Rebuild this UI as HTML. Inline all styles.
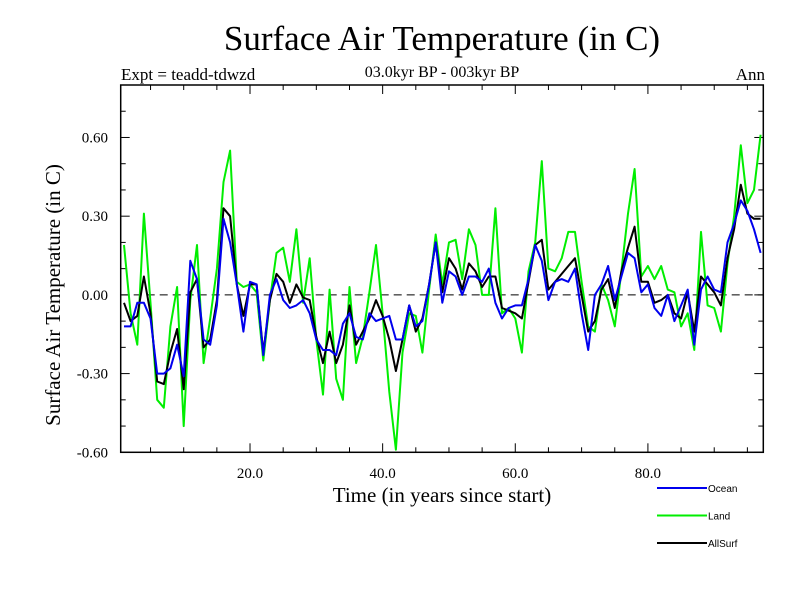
<!DOCTYPE html>
<html><head><meta charset="utf-8"><style>
body{margin:0;background:#fff;}
svg text{font-family:"Liberation Serif",serif;}
</style></head><body>
<svg id="chart" width="800" height="600" xmlns="http://www.w3.org/2000/svg">
<rect width="800" height="600" fill="#fff"/>
<text x="442" y="50" font-size="35" text-anchor="middle">Surface Air Temperature (in C)</text>
<text x="121" y="80" font-size="17">Expt = teadd-tdwzd</text>
<text x="442" y="77" font-size="16" text-anchor="middle">03.0kyr BP - 003kyr BP</text>
<text x="765" y="80" font-size="17" text-anchor="end">Ann</text>
<text transform="translate(60,295) rotate(-90)" font-size="21" text-anchor="middle">Surface Air Temperature (in C)</text>
<text x="442" y="502" font-size="21" text-anchor="middle">Time (in years since start)</text>
<g id="axes"></g>
<g id="series"></g>
<rect x="120.7" y="85" width="642.6" height="367.3" fill="none" stroke="#000" stroke-width="1.5"/>
<g id="legend"></g>
</svg>
<script>
const years = [];
for (let i = 1; i <= 97; i++) years.push(i);
const ocean = [-0.12,-0.12,-0.03,-0.03,-0.09,-0.30,-0.30,-0.28,-0.19,-0.31,0.13,0.06,-0.17,-0.19,-0.04,0.29,0.20,0.04,-0.14,0.05,0.04,-0.23,0.00,0.06,-0.02,-0.05,-0.04,-0.02,-0.07,-0.17,-0.21,-0.21,-0.23,-0.11,-0.07,-0.16,-0.17,-0.07,-0.10,-0.09,-0.08,-0.17,-0.17,-0.04,-0.12,-0.10,0.04,0.20,-0.03,0.09,0.07,0.00,0.07,0.07,0.05,0.10,-0.03,-0.09,-0.05,-0.04,-0.04,0.06,0.19,0.13,-0.02,0.05,0.06,0.05,0.10,-0.07,-0.21,0.00,0.04,0.11,-0.02,0.07,0.16,0.14,0.01,0.04,-0.05,-0.08,0.00,-0.10,-0.04,0.02,-0.19,0.02,0.07,0.02,0.01,0.20,0.27,0.36,0.32,0.25,0.16];
const land = [0.19,-0.07,-0.19,0.31,-0.03,-0.40,-0.43,-0.12,0.03,-0.50,-0.02,0.19,-0.26,-0.09,0.10,0.43,0.55,0.05,0.03,0.04,0.01,-0.25,-0.02,0.16,0.18,0.05,0.25,-0.03,0.14,-0.17,-0.38,0.02,-0.32,-0.40,0.03,-0.26,-0.16,0.01,0.19,-0.07,-0.37,-0.59,-0.22,-0.07,-0.08,-0.22,0.02,0.23,0.04,0.20,0.21,0.06,0.25,0.19,0.00,0.00,0.33,-0.07,-0.05,-0.09,-0.22,0.09,0.20,0.51,0.10,0.09,0.14,0.24,0.24,0.05,-0.12,-0.14,0.04,-0.02,-0.12,0.09,0.31,0.48,0.07,0.11,0.06,0.11,0.02,0.01,-0.12,-0.07,-0.21,0.24,-0.04,-0.05,-0.14,0.12,0.30,0.57,0.35,0.40,0.61];
const allsurf = [-0.03,-0.10,-0.08,0.07,-0.07,-0.33,-0.34,-0.22,-0.13,-0.36,0.01,0.06,-0.20,-0.17,-0.02,0.33,0.30,0.04,-0.08,0.04,0.04,-0.22,-0.02,0.08,0.05,-0.03,0.04,-0.01,-0.02,-0.16,-0.26,-0.14,-0.26,-0.19,-0.04,-0.19,-0.14,-0.09,-0.02,-0.08,-0.17,-0.29,-0.17,-0.04,-0.14,-0.09,0.04,0.20,0.01,0.14,0.10,0.02,0.12,0.09,0.03,0.07,0.07,-0.05,-0.06,-0.07,-0.09,0.05,0.19,0.21,0.02,0.05,0.08,0.11,0.14,0.00,-0.14,-0.10,0.02,0.06,-0.05,0.09,0.18,0.26,0.05,0.05,-0.03,-0.02,0.00,-0.07,-0.09,0.01,-0.14,0.07,0.04,0.01,-0.04,0.14,0.25,0.42,0.31,0.29,0.29];
const yTicks = [0.6,0.3,0,-0.3,-0.6];
const yTickLabels = ["0.60","0.30","0.00","-0.30","-0.60"];
const xTicks = [20,40,60,80];
const xTickLabels = ["20.0","40.0","60.0","80.0"];

const NS = "http://www.w3.org/2000/svg";
const X0 = 0.5, X1 = 97.4, PL = 120.7, PR = 763.3;
const Y0 = -0.6, Y1 = 0.8, PB = 452.3, PT = 85;
function xs(v){ return PL + (v - X0) / (X1 - X0) * (PR - PL); }
function ys(v){ return PB - (v - Y0) / (Y1 - Y0) * (PB - PT); }
function mk(tag, attrs, parent){
  const e = document.createElementNS(NS, tag);
  for (const k in attrs) e.setAttribute(k, attrs[k]);
  parent.appendChild(e); return e;
}
const axes = document.getElementById('axes');
for (let k = -6; k <= 8; k++) {
  const v = k / 10, y = ys(v);
  const major = yTicks.some(t => Math.abs(t - v) < 1e-6);
  const len = major ? 9 : 5;
  const t1 = mk('line', {x1: PL, x2: PL + len, y1: y, y2: y, stroke: '#000', 'stroke-width': 1}, axes);
  
  
  const t2 = mk('line', {x1: PR, x2: PR - len, y1: y, y2: y, stroke: '#000', 'stroke-width': 1}, axes);
  
  
}
yTicks.forEach((v, i) => {
  const t = mk('text', {x: 108, y: ys(v) + 5, 'font-size': 15, 'text-anchor': 'end'}, axes);
  t.textContent = yTickLabels[i];
  
  
});
for (let v = 5; v < X1; v += 5) {
  const x = xs(v);
  const major = v % 20 === 0;
  const len = major ? 9 : 5;
  const t1 = mk('line', {x1: x, x2: x, y1: PB, y2: PB - len, stroke: '#000', 'stroke-width': 1}, axes);
  
  
  const t2 = mk('line', {x1: x, x2: x, y1: PT, y2: PT + len, stroke: '#000', 'stroke-width': 1}, axes);
  
  
}
xTicks.forEach((v, i) => {
  const t = mk('text', {x: xs(v), y: 478, 'font-size': 15, 'text-anchor': 'middle'}, axes);
  t.textContent = xTickLabels[i];
  
  
});
const zl = mk('line', {x1: PL, x2: PR, y1: ys(0), y2: ys(0), stroke: '#000', 'stroke-width': 1, 'stroke-dasharray': '8,5'}, axes);



const sg = document.getElementById('series');
function drawLine(vals, color, name){
  const pts = vals.map((v, i) => xs(years[i]).toFixed(1) + ',' + ys(v).toFixed(1)).join(' ');
  const p = mk('polyline', {points: pts, fill: 'none', stroke: color, 'stroke-width': 2, 'stroke-linejoin': 'round'}, sg);
  
  
}
drawLine(land, '#00ee00', 'land-line');
drawLine(allsurf, '#000000', 'allsurf-line');
drawLine(ocean, '#0000ee', 'ocean-line');

const lg = document.getElementById('legend');
const legendNames = ['Ocean', 'Land', 'AllSurf'];
const legendColors = ['#0000ee', '#00ee00', '#000000'];
const legendY = [488, 515.5, 543];
legendNames.forEach((n, i) => {
  const g = mk('g', {}, lg);
  
  
  mk('line', {x1: 657, x2: 707, y1: legendY[i], y2: legendY[i], stroke: legendColors[i], 'stroke-width': 2}, g);
  const t = mk('text', {x: 708, y: legendY[i] + 4, 'font-size': 10, style: 'font-family:"Liberation Sans",sans-serif'}, g);
  t.textContent = n;
});
</script>
</body></html>
